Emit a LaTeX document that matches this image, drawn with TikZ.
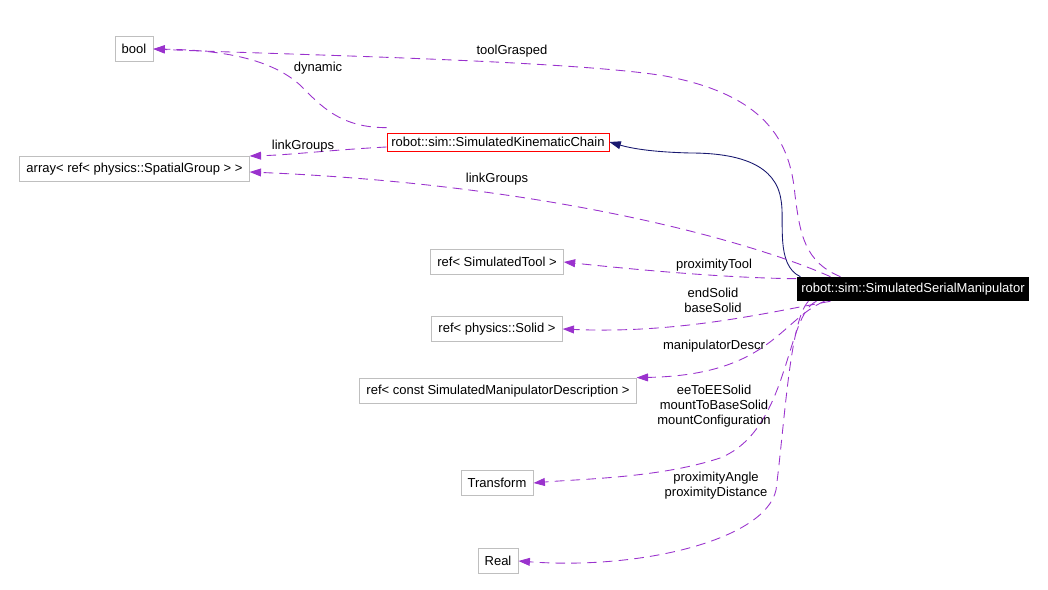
\documentclass[tikz,border=0pt]{standalone}
\usepackage{fontspec}
\setmainfont{Liberation Sans}
\usepackage{xcolor}
\usepackage{tikz}
\usetikzlibrary{arrows.meta,calc}

\definecolor{edgepurple}{RGB}{154,50,205}
\definecolor{edgenavy}{RGB}{25,25,112}
\definecolor{boxgrey}{RGB}{191,191,191}

\tikzset{
  classbox/.style={draw=boxgrey,line width=0.5pt,inner xsep=3.8pt,inner ysep=0pt,minimum height=14.7pt},
  chainbox/.style={draw=red,line width=0.5pt,inner xsep=2.5pt,inner ysep=0pt,minimum height=10.2pt},
  mainbox/.style={fill=black,text=white,inner xsep=2.6pt,inner ysep=0pt,minimum height=13.6pt},
  member/.style={draw=edgepurple,line width=0.5pt,dash pattern=on 5.5pt off 3.5pt,-{Triangle[length=6.5pt,width=4.5pt]},fill=none},
  inherit/.style={draw=edgenavy,line width=0.5pt,-{Triangle[length=6.5pt,width=4.5pt]}},
  lbl/.style={inner sep=0pt,align=center}
}

\begin{document}
\begin{tikzpicture}[x=0.02cm,y=-0.02cm,font=\fontsize{7.4}{8.5}\selectfont]
  \useasboundingbox (0,0) rectangle (1048,590);
  % ── Boxes ──────────────────────────────────────────
  \node[classbox] (bool)  at (134,49)  {bool};
  \node[classbox] (arr)   at (134.5,169) {array< ref< physics::SpatialGroup > >};
  \node[chainbox] (chain) at (498,142) {robot::sim::SimulatedKinematicChain};
  \node[classbox] (tool)  at (497,262) {ref< SimulatedTool >};
  \node[classbox] (solid) at (497,329) {ref< physics::Solid >};
  \node[classbox] (descr) at (498,391) {ref< const SimulatedManipulatorDescription >};
  \node[classbox] (trans) at (497,483) {Transform};
  \node[classbox] (real)  at (498,561) {Real};
  \node[mainbox]  (man)   at (913,289) {robot::sim::SimulatedSerialManipulator};
  % ── Inheritance ────────────────────────────────────
  \draw[inherit] ($(man.north west)+(4,0)$) .. controls (775,265) and (785,220) .. (781,200)
    .. controls (776,165) and (740,153) .. (690,153) .. controls (650,152) and (630,148) .. (chain.east);
  % ── Members of the kinematic chain ─────────────────
  \draw[member] ($(chain.north west)+(0,-5)$) .. controls (340,128) and (320,105) .. (300,85)
    .. controls (270,58) and (220,50) .. (bool.east);
  \draw[member] ($(chain.west)+(0,5)$) .. controls (330,150) and (290,155) .. ($(arr.east)+(0,-13)$);
  % ── Members of the serial manipulator ──────────────
  \draw[member] ($(man.north west)+(44,0)$) .. controls (805,262) and (800,235) .. (795,195)
    .. controls (790,140) and (765,95) .. (665,76) .. controls (570,60) and (260,54) .. (bool.east);
  \draw[member] ($(man.north west)+(34,0)$) .. controls (760,245) and (560,185) .. ($(arr.east)+(0,3)$);
  \draw[member] ($(man.north west)+(0,2)$) .. controls (720,278) and (620,268) .. (tool.east);
  \draw[member] ($(man.south west)+(34,0)$) .. controls (770,312) and (680,334) .. (solid.east);
  \draw[member] ($(man.south west)+(28,0)$) .. controls (780,320) and (770,375) .. (descr.north east);
  \draw[member] ($(man.south west)+(20,0)$) .. controls (785,315) and (790,430) .. (720,458)
    .. controls (660,478) and (580,479) .. (trans.east);
  \draw[member] ($(man.south west)+(12,0)$) .. controls (790,320) and (785,420) .. (776,490)
    .. controls (765,540) and (640,570) .. (real.east);
  % ── Edge labels ────────────────────────────────────
  \node[lbl] (lToolGrasped) at (512,51)  {toolGrasped};
  \node[lbl] (lDynamic)     at (318,68)  {dynamic};
  \node[lbl] (lLinkA)       at (303,146) {linkGroups};
  \node[lbl] (lLinkB)       at (497,179) {linkGroups};
  \node[lbl] (lProxTool)    at (714,265) {proximityTool};
  \node[lbl] (lSolid)       at (713,300) {endSolid\\baseSolid};
  \node[lbl] (lDescr)       at (714,346) {manipulatorDescr};
  \node[lbl] (lTrans)       at (714,406) {eeToEESolid\\mountToBaseSolid\\mountConfiguration};
  \node[lbl] (lReal)        at (716,486) {proximityAngle\\proximityDistance};
\end{tikzpicture}
\end{document}
